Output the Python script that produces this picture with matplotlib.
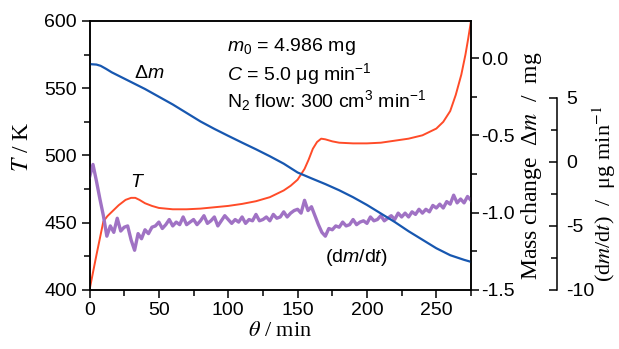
import numpy as np
import matplotlib
matplotlib.use('Agg')
import matplotlib.pyplot as plt
from matplotlib.ticker import MultipleLocator, FixedLocator, FormatStrFormatter

plt.rcParams['font.family'] = ['Liberation Sans', 'DejaVu Sans']
plt.rcParams['mathtext.fontset'] = 'custom'
plt.rcParams['mathtext.rm'] = 'Liberation Sans'
plt.rcParams['mathtext.it'] = 'Liberation Sans:italic'
plt.rcParams['axes.unicode_minus'] = False

# temperature T / K
t_T = [0, 5, 10, 13, 17, 21, 26, 30, 33, 36, 40, 45, 50, 60, 70, 80, 90, 100,
       110, 120, 130, 140, 145, 150, 155, 158, 161, 164, 167, 170, 175, 180,
       190, 200, 210, 220, 230, 240, 250, 255, 260, 264, 268, 271, 273, 275]
T = [400, 426, 451, 455, 459, 463, 467, 468.5, 468.5, 467, 464.5, 462.5, 461,
     460, 460, 460.5, 461.5, 462.5, 464, 466, 469, 474, 477.5, 482, 490, 497,
     505, 510, 512.5, 512, 510.5, 509.5, 509, 509, 509.5, 511, 512.5, 515,
     520, 525, 533, 545, 560, 575, 587, 600]

# mass change / mg
t_m = [0, 5, 8, 12, 16, 20, 30, 40, 50, 60, 70, 80, 90, 100, 110, 120, 130,
       140, 150, 160, 170, 180, 190, 200, 210, 220, 230, 240, 250, 260, 270, 275]
dm = [-0.039, -0.042, -0.050, -0.070, -0.092, -0.110, -0.155, -0.200, -0.250,
      -0.300, -0.355, -0.410, -0.458, -0.503, -0.547, -0.590, -0.635, -0.683,
      -0.740, -0.778, -0.815, -0.855, -0.900, -0.950, -1.005, -1.060, -1.120,
      -1.175, -1.230, -1.275, -1.305, -1.318]

# dm/dt / ug min-1 (noisy trace)
t_r = [0.0, 2.5, 5.0, 7.5, 10.0, 12.5, 15.0, 17.5, 20.0, 22.5,
       25.0, 27.5, 30.0, 32.5, 35.0, 37.5, 40.0, 42.5, 45.0, 47.5,
       50.0, 52.5, 55.0, 57.5, 60.0, 62.5, 65.0, 67.5, 70.0, 72.5,
       75.0, 77.5, 80.0, 82.5, 85.0, 87.5, 90.0, 92.5, 95.0, 97.5,
       100.0, 102.5, 105.0, 107.5, 110.0, 112.5, 115.0, 117.5, 120.0, 122.5,
       125.0, 127.5, 130.0, 132.5, 135.0, 137.5, 140.0, 142.5, 145.0, 147.5,
       150.0, 152.5, 155.0, 157.5, 160.0, 162.5, 165.0, 167.5, 170.0, 172.5,
       175.0, 177.5, 180.0, 182.5, 185.0, 187.5, 190.0, 192.5, 195.0, 197.5,
       200.0, 202.5, 205.0, 207.5, 210.0, 212.5, 215.0, 217.5, 220.0, 222.5,
       225.0, 227.5, 230.0, 232.5, 235.0, 237.5, 240.0, 242.5, 245.0, 247.5,
       250.0, 252.5, 255.0, 257.5, 260.0, 262.5, 265.0, 267.5, 270.0, 272.5,
       275.0]
rate = [-1.2, -0.2, -1.5, -2.9, -4.2, -5.8, -5.0, -5.5, -4.4, -5.4,
        -5.1, -5.0, -6.1, -6.9, -5.6, -6.0, -5.3, -5.6, -5.1, -5.0,
        -4.7, -5.2, -4.9, -4.5, -5.0, -4.7, -4.9, -4.3, -4.9, -4.7,
        -4.5, -4.9, -4.6, -4.2, -4.8, -4.6, -4.3, -5.0, -4.6, -4.2,
        -4.5, -4.8, -4.5, -4.7, -4.3, -4.8, -4.5, -4.6, -4.1, -4.6,
        -4.5, -4.3, -4.6, -4.1, -4.4, -4.3, -3.9, -4.3, -4.0, -3.8,
        -3.7, -4.0, -3.0, -3.8, -3.5, -4.2, -4.9, -5.5, -5.8, -5.2,
        -5.3, -5.0, -5.1, -4.7, -5.0, -4.9, -4.5, -4.9, -4.7, -4.6,
        -4.8, -4.3, -4.6, -4.5, -4.2, -4.6, -4.4, -4.2, -4.5, -4.0,
        -4.3, -4.0, -4.3, -3.9, -4.1, -3.7, -4.0, -3.7, -3.9, -3.4,
        -3.6, -3.3, -3.6, -3.1, -3.3, -2.6, -3.2, -2.9, -3.2, -2.7,
        -3.0]

red = '#ff4b28'
blue = '#1757b0'
purple = '#a072c4'

fig = plt.figure(figsize=(6.19, 3.49), dpi=100)
ax = fig.add_axes([0.1446, 0.1691, 0.6163, 0.7708])
ax3 = ax.twinx()
ax2 = ax.twinx()

ax.plot(t_T, T, color=red, lw=1.4)
ax3.plot(t_r, rate, color=purple, lw=2.4)
ax2.plot(t_m, dm, color=blue, lw=1.6)

ax.set_xlim(0, 275)
ax.set_ylim(400, 600)
ax2.set_ylim(-1.5, 0.24)
ax3.set_ylim(-10, 11)

ax.xaxis.set_major_locator(MultipleLocator(50))
ax.xaxis.set_minor_locator(MultipleLocator(25))
ax.yaxis.set_major_locator(MultipleLocator(50))
ax.yaxis.set_minor_locator(MultipleLocator(25))
ax2.yaxis.set_major_locator(MultipleLocator(0.5))
ax2.yaxis.set_minor_locator(MultipleLocator(0.25))
ax2.yaxis.set_major_formatter(FormatStrFormatter('%.1f'))
ax3.yaxis.set_major_locator(FixedLocator([-10, -5, 0, 5]))
ax3.yaxis.set_minor_locator(FixedLocator([-7.5, -2.5, 2.5]))

for a in (ax, ax2, ax3):
    for s in a.spines.values():
        s.set_linewidth(1.1)

ax.tick_params(axis='both', which='major', direction='out', length=6, width=1.1,
               labelsize=14, top=False, right=False)
ax.tick_params(axis='both', which='minor', direction='out', length=4, width=1.1,
               top=False, right=False)
ax.tick_params(axis='y', pad=3)
ax.tick_params(axis='x', pad=3)
ax2.tick_params(axis='y', which='major', direction='out', length=6, width=1.1,
                labelsize=14, pad=1.5)
ax2.tick_params(axis='y', which='minor', direction='out', length=4, width=1.1)

ax3.spines['right'].set_position(('axes', 1.2267))
ax3.spines['right'].set_bounds(-10, 5)
for side in ('top', 'bottom', 'left'):
    ax3.spines[side].set_visible(False)
ax3.patch.set_visible(False)
ax3.tick_params(axis='y', which='major', direction='in', length=6, width=1.1,
                labelsize=14, pad=6)
ax3.tick_params(axis='y', which='minor', direction='in', length=4, width=1.1)


def fx(px):
    return px / 619


def fy(py):
    return 1 - py / 349


serif = ['Liberation Serif', 'DejaVu Serif']
fig.text(fx(23), fy(147), '$T$ / K', family=serif, math_fontfamily='stix',
         fontsize=17, rotation=90, ha='center', va='center')
fig.text(fx(280), fy(331), r'$\theta$ / min', family=serif, math_fontfamily='stix',
         fontsize=16, ha='center', va='center')
fig.text(fx(532), fy(166), 'Mass change  Δ$m$  /  mg', family=serif,
         math_fontfamily='stix', fontsize=17, rotation=90, ha='center', va='center')
fig.text(fx(604), fy(194), '(d$m$/d$t$)  /  μg min$^{-1}$', family=serif,
         math_fontfamily='stix', fontsize=16, rotation=90, ha='center', va='center')

fig.text(fx(227), fy(51), '$m_0$ = 4.986 mg', fontsize=14, va='baseline')
fig.text(fx(227), fy(80), '$C$ = 5.0 μg min$^{-1}$', fontsize=14, va='baseline')
fig.text(fx(227), fy(107), 'N$_2$ flow: 300 cm$^3$ min$^{-1}$', fontsize=14,
         va='baseline')

fig.text(fx(149), fy(74), 'Δ$m$', fontsize=14, ha='center', va='center')
fig.text(fx(138), fy(183), '$T$', fontsize=14, ha='center', va='center')
fig.text(fx(356), fy(257), '(d$m$/d$t$)', fontsize=14, ha='center', va='center')

fig.savefig('out.png', dpi=100)
